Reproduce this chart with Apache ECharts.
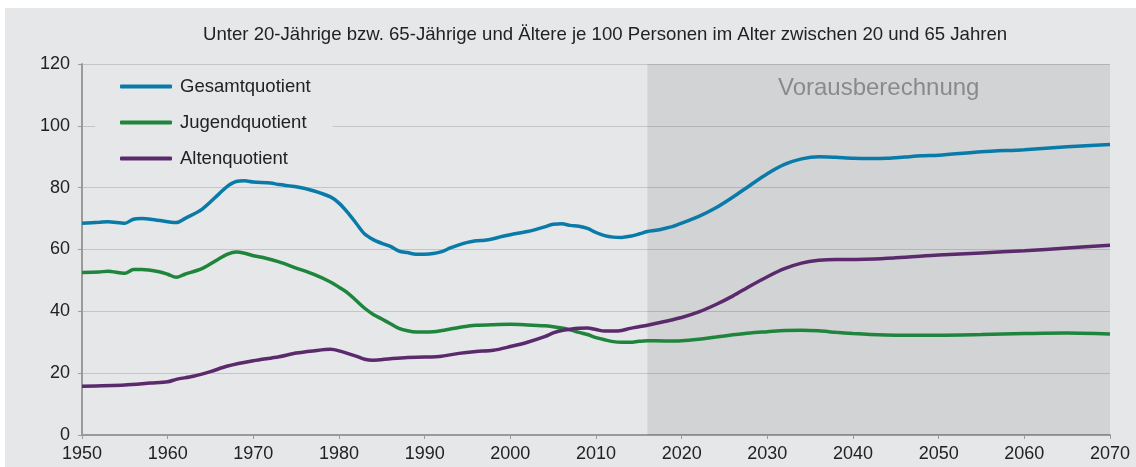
<!DOCTYPE html>
<html>
<head>
<meta charset="utf-8">
<script src="https://cdn.jsdelivr.net/npm/echarts@6/dist/echarts.min.js"></script>
<style>
  body { margin: 0; background: #ffffff; }
  #chart { position: absolute; left: 5px; top: 8px; width: 1131px; height: 459px; background: #e6e7e9; }
</style>
</head>
<body>
<div id="chart"></div>
<script>
  // Jahre und Werte
  var gesamtJahre = [1950, 1952, 1953, 1955, 1956, 1957, 1958, 1960, 1961, 1962, 1964, 1966, 1967, 1968, 1969, 1970, 1972, 1973, 1975, 1977, 1979, 1980, 1981, 1982, 1983, 1984, 1985, 1986, 1987, 1988, 1989, 1990, 1991, 1992, 1993, 1994, 1995, 1996, 1997, 1998, 1999, 2000, 2002, 2003, 2004, 2005, 2006, 2007, 2008, 2009, 2010, 2011, 2012, 2013, 2014, 2015, 2016, 2017, 2018, 2019, 2020, 2022, 2024, 2026, 2028, 2030, 2032, 2034, 2036, 2038, 2040, 2042, 2044, 2046, 2048, 2050, 2055, 2060, 2065, 2070];
  var gesamtWerte = [68.5, 68.8, 69, 68.5, 69.8, 70, 69.8, 69, 68.7, 70, 73, 78, 80.5, 82, 82.2, 81.8, 81.5, 81, 80.3, 79, 77, 75, 72, 68.5, 65, 63.2, 62, 61, 59.5, 59, 58.5, 58.5, 58.7, 59.3, 60.5, 61.5, 62.3, 62.8, 63, 63.5, 64.2, 64.8, 65.8, 66.5, 67.3, 68.2, 68.3, 67.8, 67.5, 66.8, 65.5, 64.5, 64, 63.9, 64.3, 65, 65.8, 66.2, 66.8, 67.5, 68.5, 70.7, 73.5, 77, 80.8, 84.5, 87.5, 89.3, 90, 89.8, 89.5, 89.4, 89.5, 89.9, 90.3, 90.5, 91.6, 92.3, 93.2, 94];

  var jugendJahre = [1950, 1952, 1953, 1955, 1956, 1957, 1959, 1960, 1961, 1962, 1964, 1966, 1967, 1968, 1969, 1970, 1971, 1973, 1975, 1977, 1979, 1980, 1981, 1982, 1983, 1984, 1985, 1986, 1987, 1988, 1989, 1990, 1991, 1992, 1993, 1994, 1995, 1996, 1998, 2000, 2002, 2004, 2005, 2006, 2007, 2008, 2009, 2010, 2011, 2012, 2013, 2014, 2015, 2016, 2018, 2020, 2022, 2024, 2026, 2028, 2030, 2032, 2034, 2036, 2038, 2040, 2042, 2045, 2050, 2055, 2060, 2065, 2070];
  var jugendWerte = [52.6, 52.7, 53, 52.3, 53.5, 53.5, 52.8, 52, 51, 52, 53.8, 57, 58.5, 59.2, 58.8, 58, 57.5, 56, 54, 52, 49.5, 47.8, 46, 43.5, 41, 39, 37.5, 36, 34.5, 33.7, 33.3, 33.3, 33.4, 33.8, 34.3, 34.8, 35.2, 35.5, 35.7, 35.8, 35.6, 35.3, 35, 34.6, 34, 33.2, 32.5, 31.5, 30.8, 30.2, 30, 30, 30.3, 30.5, 30.4, 30.5, 31, 31.7, 32.4, 33, 33.4, 33.8, 33.9, 33.7, 33.2, 32.8, 32.5, 32.3, 32.3, 32.5, 32.8, 33, 32.7];

  var altenJahre = [1950, 1955, 1958, 1960, 1961, 1963, 1965, 1967, 1970, 1973, 1975, 1977, 1979, 1980, 1982, 1983, 1984, 1986, 1988, 1990, 1992, 1994, 1996, 1998, 2000, 2002, 2004, 2005, 2006, 2007, 2008, 2009, 2010, 2011, 2012, 2013, 2014, 2015, 2016, 2018, 2020, 2022, 2024, 2026, 2028, 2030, 2032, 2034, 2036, 2038, 2040, 2045, 2050, 2055, 2060, 2065, 2070];
  var altenWerte = [15.8, 16.2, 16.8, 17.2, 18, 19, 20.5, 22.3, 24, 25.3, 26.5, 27.2, 27.7, 27.2, 25.5, 24.5, 24.2, 24.7, 25.1, 25.2, 25.5, 26.4, 27, 27.4, 28.6, 30, 31.8, 33, 33.8, 34.2, 34.5, 34.6, 34.1, 33.6, 33.6, 33.8, 34.5, 35, 35.5, 36.7, 38, 39.8, 42.2, 45, 48.2, 51.2, 53.8, 55.6, 56.5, 56.8, 56.8, 57.3, 58.2, 58.9, 59.6, 60.5, 61.4];

  var reiheNamen = ['Gesamtquotient', 'Jugendquotient', 'Altenquotient'];
  var prognoseStart = 2016;
  var prognoseEnde = 2070;

  function paare(jahre, werte) {
    return jahre.map(function (j, i) { return [j, werte[i]]; });
  }

  var chart = echarts.init(document.getElementById('chart'));
  var schrift = "'Liberation Sans', Arial, sans-serif";

  chart.setOption({
    animation: false,
    title: {
      text: 'Unter 20-Jährige bzw. 65-Jährige und Ältere je 100 Personen im Alter zwischen 20 und 65 Jahren',
      left: 193,
      top: 12,
      textStyle: { fontFamily: schrift, fontSize: 18.6, fontWeight: 'normal', color: '#222' }
    },
    legend: {
      data: reiheNamen,
      orient: 'vertical',
      left: 90,
      top: 63,
      padding: [6, 22, 6, 25],
      backgroundColor: '#e6e7e9',
      itemWidth: 52,
      itemHeight: 4,
      itemGap: 17,
      icon: 'roundRect',
      textStyle: { fontFamily: schrift, fontSize: 18.5, color: '#222', lineHeight: 18, padding: [0, 0, 0, 3] }
    },
    grid: { left: 77, right: 26, top: 56, bottom: 32 },
    xAxis: {
      type: 'value',
      min: 1950,
      max: 2070,
      interval: 10,
      axisLine: { lineStyle: { color: '#9a9a9a', width: 2 } },
      axisTick: { show: true, length: 4, lineStyle: { color: '#9a9a9a' } },
      axisLabel: {
        fontFamily: schrift, fontSize: 18, color: '#222', margin: 10,
        formatter: function (v) { return String(v); }
      },
      splitLine: { show: false }
    },
    yAxis: {
      type: 'value',
      min: 0,
      max: 120,
      interval: 20,
      axisLine: { show: true, lineStyle: { color: '#9a9a9a', width: 2 } },
      axisTick: { show: true, length: 4, lineStyle: { color: '#9a9a9a' } },
      axisLabel: { fontFamily: schrift, fontSize: 18, color: '#222', margin: 12 },
      splitLine: { lineStyle: { color: '#c4c5c7', width: 1 } }
    },
    series: [
      {
        name: reiheNamen[0],
        type: 'line',
        data: paare(gesamtJahre, gesamtWerte),
        smooth: 0.3,
        showSymbol: false,
        color: '#0a7aa8',
        lineStyle: { width: 3.5 },
        z: 4,
        markArea: {
          silent: true,
          itemStyle: { color: 'rgba(0,0,0,0.085)' },
          label: {
            show: true,
            position: 'insideTop',
            distance: 12,
            fontFamily: schrift,
            fontSize: 24,
            color: '#8a8a8a'
          },
          data: [[{ name: 'Vorausberechnung', xAxis: prognoseStart, yAxis: 120 }, { xAxis: prognoseEnde, yAxis: 0 }]]
        }
      },
      {
        name: reiheNamen[1],
        type: 'line',
        data: paare(jugendJahre, jugendWerte),
        smooth: 0.3,
        showSymbol: false,
        color: '#1f853c',
        lineStyle: { width: 3.5 },
        z: 3
      },
      {
        name: reiheNamen[2],
        type: 'line',
        data: paare(altenJahre, altenWerte),
        smooth: 0.3,
        showSymbol: false,
        color: '#5a2a6c',
        lineStyle: { width: 3.5 },
        z: 3
      }
    ]
  });
</script>
</body>
</html>
